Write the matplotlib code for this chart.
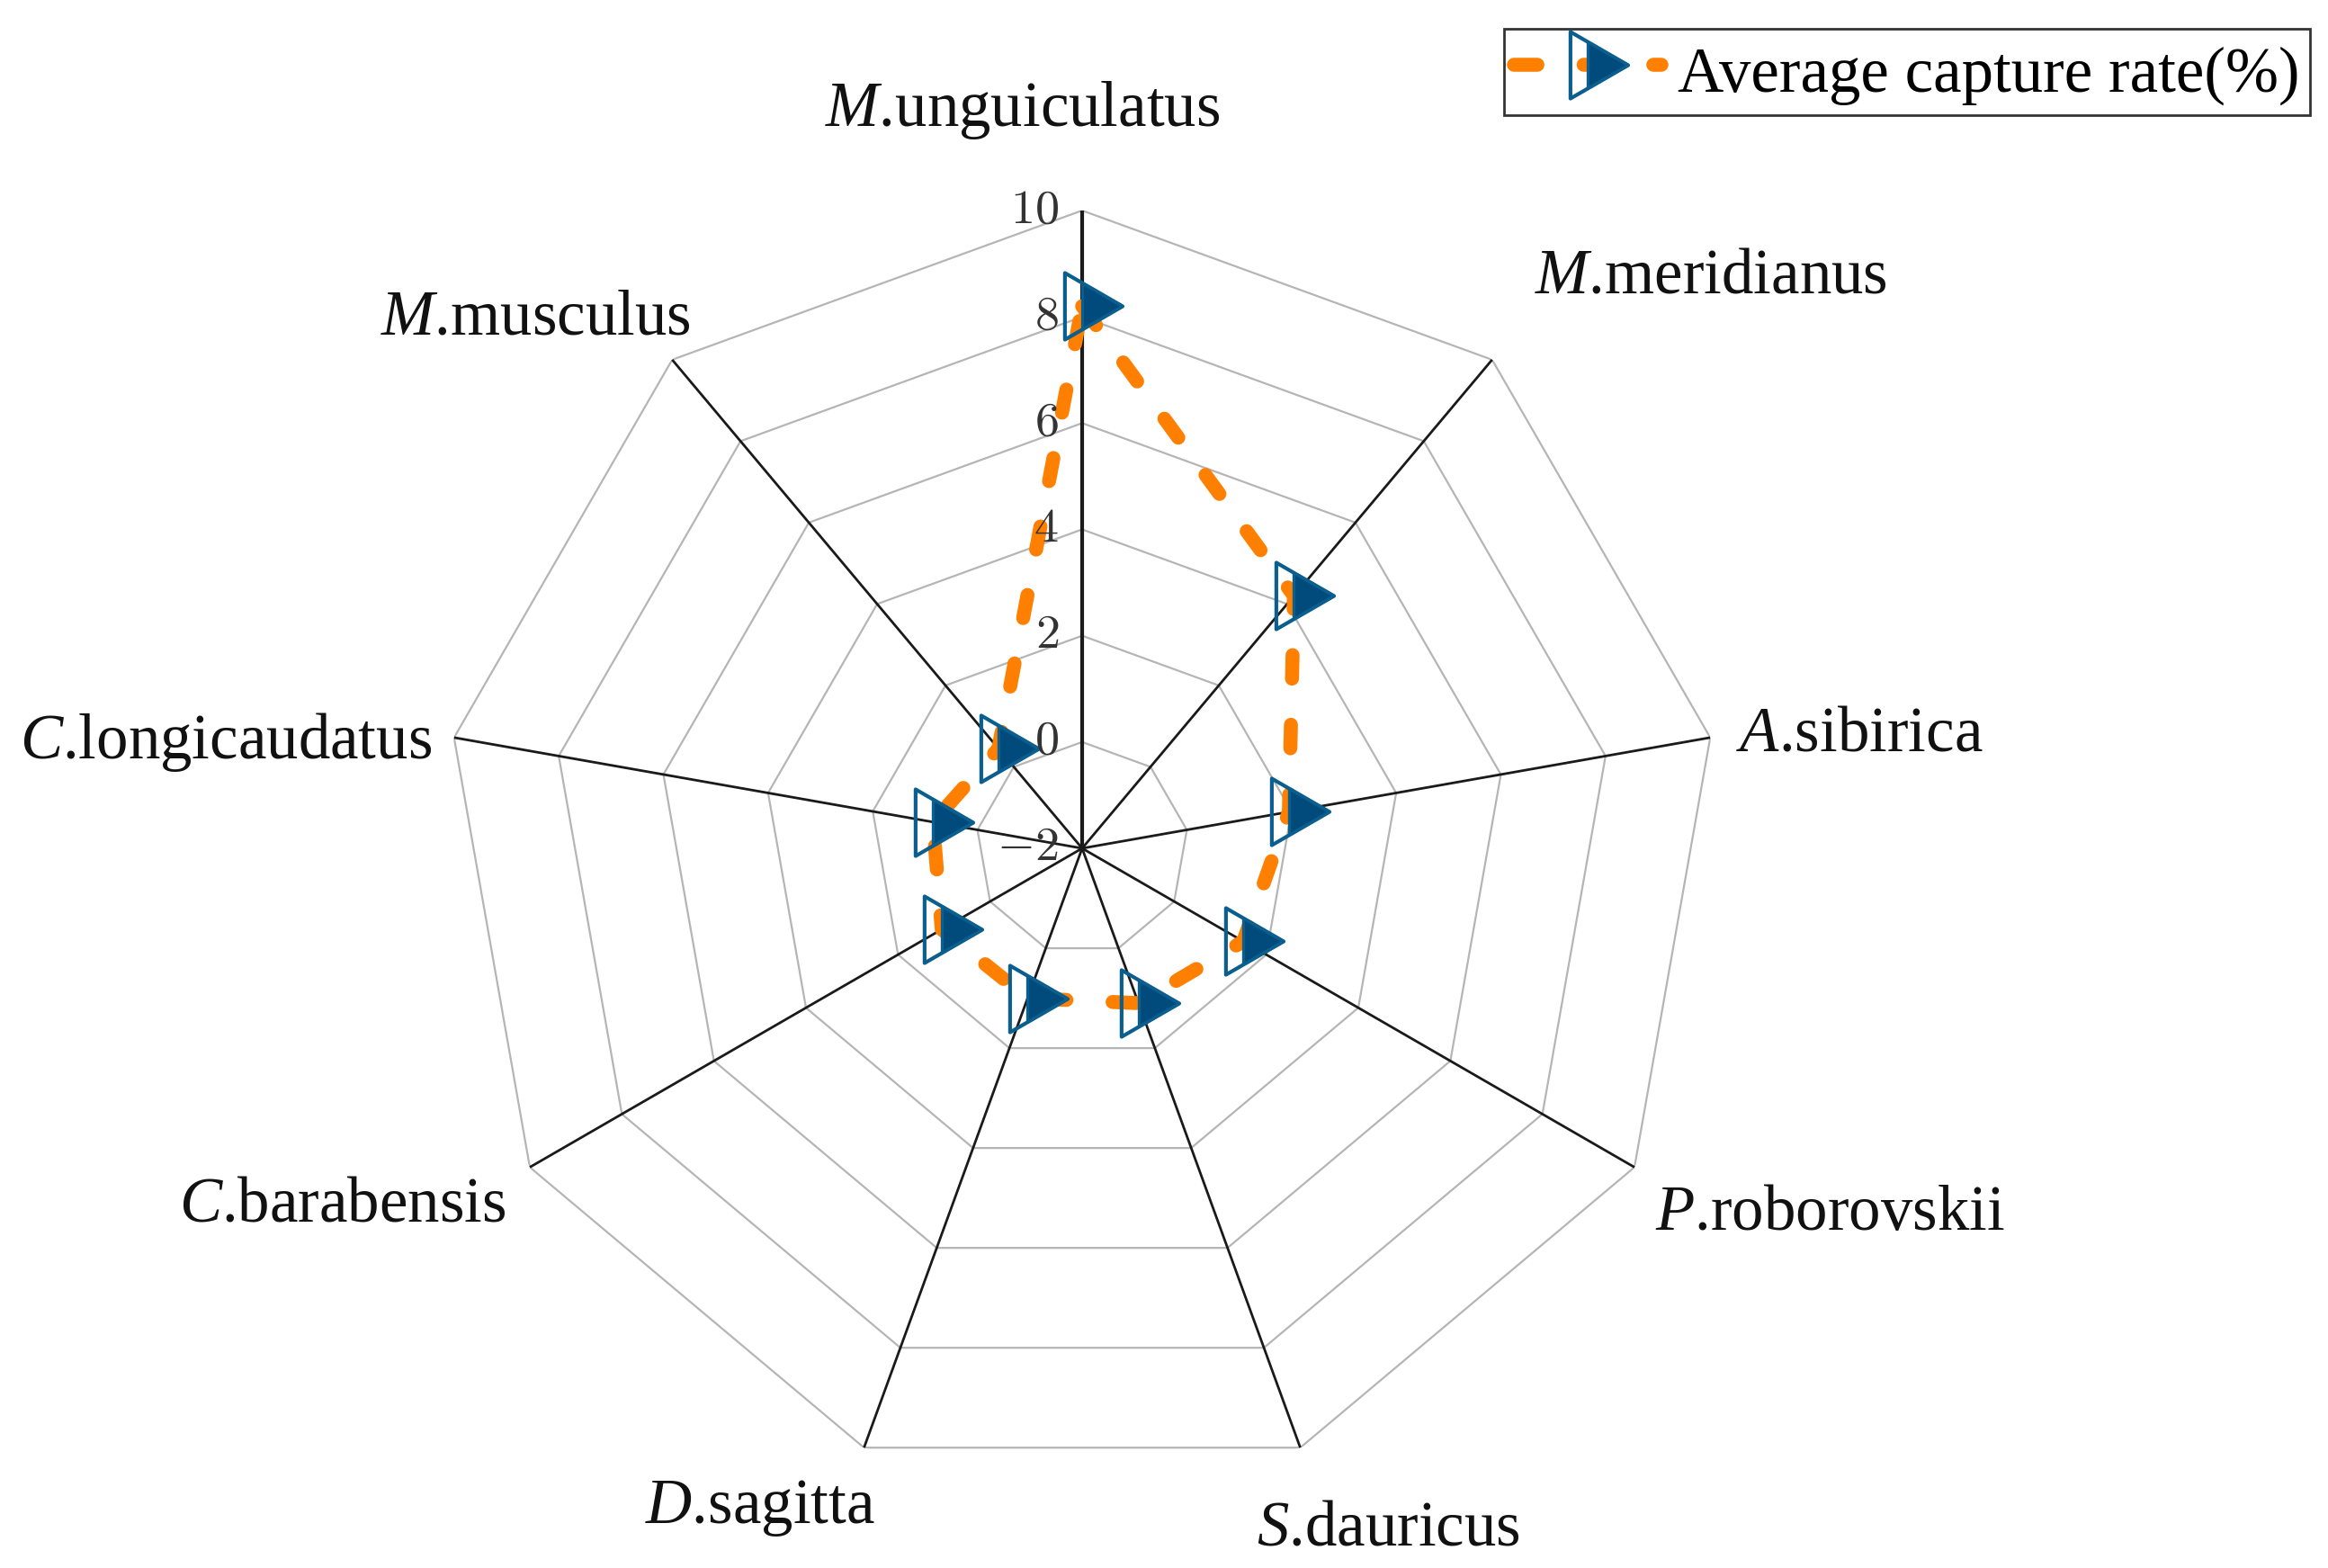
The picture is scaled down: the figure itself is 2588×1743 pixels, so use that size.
import numpy as np
import matplotlib
matplotlib.use('Agg')
import matplotlib.pyplot as plt
from matplotlib.path import Path

# ---------------- data ----------------
genus = ['M', 'M', 'A', 'P', 'S', 'D', 'C', 'C', 'M']
epithet = ['unguiculatus', 'meridianus', 'sibirica', 'roborovskii', 'dauricus',
           'sagitta', 'barabensis', 'longicaudatus', 'musculus']
capture_rate = [8.2, 4.2, 1.95, 1.5, 1.1, 1.0, 1.05, 0.85, 0.45]
ring_levels = [-2, 0, 2, 4, 6, 8, 10]
ring_labels = ['$-2$', '$0$', '$2$', '$4$', '$6$', '$8$', '$10$']
series_name = 'Average capture rate(%)'

# ---------------- style ----------------
plt.rcParams['font.family'] = ['Liberation Serif', 'DejaVu Serif']
plt.rcParams['mathtext.fontset'] = 'custom'
plt.rcParams['mathtext.rm'] = 'Liberation Serif'
plt.rcParams['mathtext.it'] = 'Liberation Serif:italic'
plt.rcParams['mathtext.bf'] = 'Liberation Serif:bold'

ORANGE = '#ff8000'
FILL = '#004b7b'
EDGE = '#0a5f8f'
W, H, DPI = 2588, 1743, 200

fig = plt.figure(figsize=(W / DPI, H / DPI), dpi=DPI)
cx, cy, R = 1203, 943, 709
ax = fig.add_axes([(cx - R) / W, 1 - (cy + R) / H, 2 * R / W, 2 * R / H],
                  projection='polar')
ax.set_theta_zero_location('N')
ax.set_theta_direction(-1)
ax.set_ylim(-2, 10)
ax.set_xticks([])
ax.set_yticks([])
ax.grid(False)
ax.spines['polar'].set_visible(False)
ax.patch.set_alpha(0)

n = len(capture_rate)
theta = np.arange(n) * 2 * np.pi / n
theta_c = np.r_[theta, theta[0]]

# polygon rings
for lev in ring_levels[1:]:
    ax.plot(theta_c, [lev] * (n + 1), color='#b5b5b5', lw=0.8, zorder=1)
# spokes
for i, t in enumerate(theta):
    ax.plot([t, t], [ring_levels[0], ring_levels[-1]], color='#1a1a1a',
            lw=1.5 if i == 0 else 1.0, zorder=2)

# data line
vals_c = np.r_[capture_rate, capture_rate[0]]
line, = ax.plot(theta_c, vals_c, color=ORANGE, lw=5.6, dashes=(1.68, 3.3),
                dash_capstyle='round', zorder=3)

# half-filled triangle marker (origin = junction of hollow and filled parts)
outline_path = Path([(-0.53, 1.0), (1.2, 0.0), (-0.53, -1.0), (-0.53, 1.0)],
                    [Path.MOVETO, Path.LINETO, Path.LINETO, Path.CLOSEPOLY])
fill_path = Path([(0.0, 0.69), (1.2, 0.0), (0.0, -0.69), (0.0, 0.69)],
                 [Path.MOVETO, Path.LINETO, Path.LINETO, Path.CLOSEPOLY])
m_out, = ax.plot(theta, capture_rate, ls='none', marker=outline_path, ms=32,
                 mfc='none', mec=EDGE, mew=1.5, zorder=4)
m_fill, = ax.plot(theta, capture_rate, ls='none', marker=fill_path, ms=32,
                  mfc=FILL, mec=EDGE, mew=1.2, zorder=5)

# radial tick labels along the top spoke
for lev, lab in zip(ring_levels, ring_labels):
    ax.annotate(lab, xy=(0, lev), xytext=(-9.4, 0), textcoords='offset points',
                ha='right', va='center', fontsize=19.5, color='#333333',
                math_fontfamily='cm', zorder=6)

# category labels (pixel anchors: centre x, baseline y)
label_px = [(1137, 140), (1902, 326), (2067, 835), (2034, 1367), (1543, 1718),
            (845, 1693), (381, 1357), (251, 843), (595, 372)]
for g, e, (px, py) in zip(genus, epithet, label_px):
    fig.text(px / W, 1 - py / H, r'$\mathit{%s}$.%s' % (g, e), ha='center',
             va='baseline', fontsize=25.5, color='#111111')

leg = fig.legend(handles=[(line, m_out, m_fill)], labels=[series_name],
                 loc='upper right', bbox_to_anchor=(2568 / W, 1 - 32 / H),
                 bbox_transform=fig.transFigure, borderaxespad=0,
                 fontsize=25.5, frameon=True, fancybox=False,
                 edgecolor='#333333', framealpha=1, borderpad=0.16,
                 handlelength=2.32, handletextpad=0.25, handleheight=1.1)
leg.get_frame().set_linewidth(1.0)

fig.savefig('out.png', dpi=DPI)
